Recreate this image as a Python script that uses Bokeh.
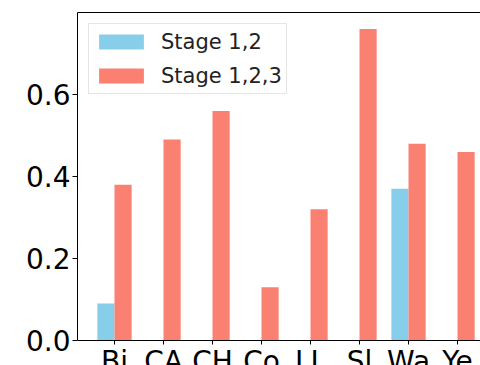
from bokeh.plotting import figure
from bokeh.models import FixedTicker, ColumnDataSource, Range1d, CustomJSTickFormatter, LinearAxis
from bokeh.embed import file_html
from bokeh.resources import INLINE

categories = ["Bi", "CA", "CH", "Co", "LL", "Sl", "Wa", "Ye"]
stage_12 = [0.09, 0.0, 0.0, 0.0, 0.0, 0.0, 0.37, 0.0]
stage_123 = [0.38, 0.49, 0.56, 0.13, 0.32, 0.76, 0.48, 0.46]
y_ticks = [0.0, 0.2, 0.4, 0.6]

bar_w = 0.35
idx = list(range(len(categories)))
src = ColumnDataSource(dict(
    x12=[i - bar_w / 2 for i in idx],
    x123=[i + bar_w / 2 for i in idx],
    s12=stage_12,
    s123=stage_123,
))

px_per_unit = 410.0
p = figure(width=480, height=365, output_backend="svg", toolbar_location=None,
           x_range=Range1d(-0.755, 7.469), y_range=Range1d(-25 / px_per_unit, 0.8),
           min_border_left=77, min_border_right=0, min_border_top=12, min_border_bottom=0)

p.vbar(x="x12", top="s12", width=bar_w, source=src, color="#87CEEB", line_color=None,
       legend_label="Stage 1,2")
p.vbar(x="x123", top="s123", width=bar_w, source=src, color="#FA8072", line_color=None,
       legend_label="Stage 1,2,3")

p.outline_line_color = None
p.grid.visible = False

font = "DejaVu Sans"
yax = p.yaxis[0]
xax = p.below[0]

top_ax = LinearAxis(ticker=FixedTicker(ticks=[]), major_tick_line_color=None,
                    minor_tick_line_color=None, major_label_text_font_size="0px",
                    major_label_standoff=0, axis_line_color="black", axis_line_width=1.2)
p.add_layout(top_ax, "above")

yax.bounds = (0.0, 0.8)
yax.ticker = FixedTicker(ticks=y_ticks)
yax.formatter = CustomJSTickFormatter(code="return tick.toFixed(1);")
yax.major_label_text_font = font
yax.major_label_text_font_size = "28px"
yax.major_label_text_color = "black"
yax.major_tick_out = 5
yax.major_tick_in = 0
yax.minor_tick_line_color = None
yax.major_label_standoff = 2
yax.axis_line_color = "black"
yax.major_tick_line_color = "black"

xax.fixed_location = 0.0
xax.ticker = FixedTicker(ticks=idx)
xax.major_label_overrides = {i: c for i, c in zip(idx, categories)}
xax.major_label_text_font = font
xax.major_label_text_font_size = "28px"
xax.major_label_text_color = "black"
xax.major_label_standoff = 0
xax.major_tick_out = 4
xax.major_tick_in = 0
xax.minor_tick_line_color = None
xax.axis_line_color = "black"
xax.major_tick_line_color = "black"

lg = p.legend[0]
lg.location = "top_left"
lg.margin = 11
lg.padding = 4
lg.glyph_width = 56
lg.glyph_height = 19
lg.label_height = 27
lg.spacing = 7
lg.label_standoff = 12
lg.label_text_font = font
lg.label_text_font_size = "21px"
lg.label_text_color = "#222222"
lg.border_line_color = "#cccccc"
lg.border_line_width = 1
lg.background_fill_alpha = 0.8

open("out.html", "w").write(file_html(p, INLINE))
